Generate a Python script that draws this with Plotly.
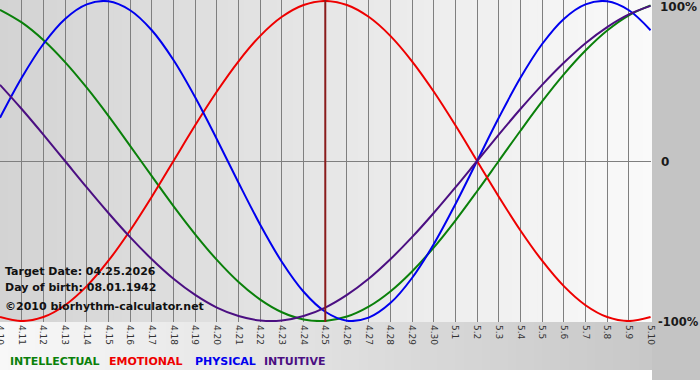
import plotly.graph_objects as go

# ---- data (-1..1 = -100%..100%) ----
dates = ["4.10", "4.11", "4.12", "4.13", "4.14", "4.15", "4.16", "4.17", "4.18", "4.19",
         "4.20", "4.21", "4.22", "4.23", "4.24", "4.25", "4.26", "4.27", "4.28", "4.29",
         "4.30", "5.1", "5.2", "5.3", "5.4", "5.5", "5.6", "5.7", "5.8", "5.9", "5.10"]

intellectual = [0.945, 0.866, 0.756, 0.618, 0.458, 0.282, 0.095, -0.095, -0.282, -0.458,
                -0.618, -0.756, -0.866, -0.945, -0.990, -0.999, -0.972, -0.910, -0.815, -0.690,
                -0.541, -0.372, -0.189, 0.0, 0.189, 0.372, 0.541, 0.690, 0.815, 0.910, 0.972]

emotional = [-0.975, -1.0, -0.975, -0.901, -0.782, -0.623, -0.434, -0.223, 0.0, 0.223,
             0.434, 0.623, 0.782, 0.901, 0.975, 1.0, 0.975, 0.901, 0.782, 0.623,
             0.434, 0.223, 0.0, -0.223, -0.434, -0.623, -0.782, -0.901, -0.975, -1.0, -0.975]

physical = [0.270, 0.520, 0.731, 0.888, 0.979, 0.998, 0.942, 0.817, 0.631, 0.398,
            0.136, -0.136, -0.398, -0.631, -0.817, -0.942, -0.998, -0.979, -0.888, -0.731,
            -0.520, -0.270, 0.0, 0.270, 0.520, 0.731, 0.888, 0.979, 0.998, 0.942, 0.817]

intuitive = [0.476, 0.325, 0.165, 0.0, -0.165, -0.325, -0.476, -0.614, -0.736, -0.837,
             -0.916, -0.969, -0.997, -0.997, -0.969, -0.916, -0.837, -0.736, -0.614, -0.476,
             -0.325, -0.165, 0.0, 0.165, 0.325, 0.476, 0.614, 0.736, 0.837, 0.916, 0.969]

series_names = ["INTELLECTUAL", "EMOTIONAL", "PHYSICAL", "INTUITIVE"]
series_colors = ["#0a800a", "#ee0000", "#0000ee", "#4b0f82"]
y_tickvals = [1, 0, -1]
y_ticktext = ["100%", "0", "-100%"]
target_day = "4.25"
info_lines = ["Target Date: 04.25.2026", "Day of birth: 08.01.1942", "\u00a92010 biorhythm-calculator.net"]

# ---- layout geometry ----
W, H = 700, 380
ML, MR, MT, MB = 0, 49, 0, 58
PW, PH = W - ML - MR, H - MT - MB
FONT = "DejaVu Sans, Verdana, sans-serif"


def lerp(c0, c1, t):
    return "#%02x%02x%02x" % tuple(int(round(a + (b - a) * t)) for a, b in zip(c0, c1))


shapes = []
# plot-area horizontal gradient
N = 80
for i in range(N):
    shapes.append(dict(type="rect", xref="paper", yref="paper",
                       x0=i / N, x1=(i + 1) / N + 0.002, y0=0, y1=1,
                       fillcolor=lerp((0xd3,) * 3, (0xfa,) * 3, (i + 0.5) / N),
                       line_width=0, layer="below"))
# bottom band gradient (tick labels + legend)
band_bottom = -(370 - PH) / PH
for i in range(N):
    shapes.append(dict(type="rect", xref="paper", yref="paper",
                       x0=i / N * W / PW, x1=(i + 1) / N * W / PW + 0.002,
                       y0=band_bottom, y1=0,
                       fillcolor=lerp((0xf8,) * 3, (0xc4,) * 3, (i + 0.5) / N),
                       line_width=0, layer="below"))
# right gray panel
shapes.append(dict(type="rect", xref="paper", yref="paper",
                   x0=1.0 + 1 / PW, x1=W / PW + 0.01, y0=-MB / PH - 0.01, y1=1.01,
                   fillcolor="#c4c4c4", line_width=0, layer="below"))
# target-date vertical line (category index)
ti = dates.index(target_day)
shapes.append(dict(type="line", xref="x", yref="paper", x0=ti, x1=ti,
                   y0=0, y1=1, line=dict(color="#8a1c1c", width=2), layer="above"))

fig = go.Figure()
for name, vals, col in zip(series_names, [intellectual, emotional, physical, intuitive], series_colors):
    fig.add_trace(go.Scatter(x=dates, y=vals, mode="lines", name=name,
                             line=dict(color=col, width=2, shape="spline", smoothing=1),
                             hoverinfo="skip", showlegend=False))

annotations = []
for k, txt in enumerate(info_lines):
    yc = [271, 287, 306][k]
    annotations.append(dict(text=txt, xref="paper", yref="paper", x=3 / PW, y=(PH - yc) / PH,
                            xanchor="left", yanchor="middle", showarrow=False,
                            font=dict(family=FONT, size=11, color="#111111", weight="bold")))

legend_x = [8, 107, 193, 262]
for name, col, lx in zip(series_names, series_colors, legend_x):
    annotations.append(dict(text=name, xref="paper", yref="paper", x=lx / PW, y=(PH - 361) / PH,
                            xanchor="left", yanchor="middle", showarrow=False,
                            font=dict(family=FONT, size=11, color=col, weight="bold")))

# right-side percentage labels
y_shift = {1: -6, 0: -1, -1: -1}
x_off = {1: 7, 0: 8, -1: 5}
for v, txt in zip(y_tickvals, y_ticktext):
    annotations.append(dict(text=txt, xref="paper", yref="y", x=(PW + x_off[v]) / PW, y=v,
                            yshift=y_shift[v], xanchor="left", yanchor="middle",
                            showarrow=False,
                            font=dict(family=FONT, size=12 if v != -1 else 11.5,
                                      color="#1a1a1a", weight="bold")))

fig.update_layout(
    width=W, height=H,
    margin=dict(l=ML, r=MR, t=MT, b=MB, pad=0),
    paper_bgcolor="#ffffff", plot_bgcolor="#e6e6e6",
    shapes=shapes, annotations=annotations, showlegend=False,
    xaxis=dict(type="category", range=[0, len(dates) - 1 + 0.02], showgrid=True,
               gridcolor="#7f7f7f", gridwidth=1, zeroline=False, showline=False,
               ticks="", tickangle=90, ticklabelstandoff=2, automargin=False,
               tickfont=dict(family=FONT, size=9, color="#333333"), fixedrange=True),
    yaxis=dict(range=[-1.006, 1.006], side="right", tickmode="array",
               tickvals=y_tickvals, ticktext=["", "", ""], showgrid=True,
               gridcolor="#7f7f7f", gridwidth=1, zeroline=False, showline=False,
               ticks="", automargin=False, fixedrange=True),
)

fig.write_html("out.html", config={"displayModeBar": False, "staticPlot": True},
               post_script="document.body.style.margin='0px';document.body.style.overflow='hidden';")
